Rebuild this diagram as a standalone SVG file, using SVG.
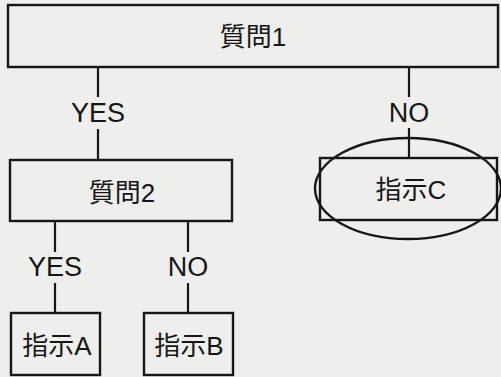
<svg xmlns="http://www.w3.org/2000/svg" width="501" height="377" viewBox="0 0 501 377">
<style>
.box{fill:none;stroke:#161616;stroke-width:2.4}
.ln{stroke:#161616;stroke-width:2.2;fill:none}
.t{font-family:"Liberation Sans","Noto Sans CJK JP",sans-serif;font-size:26px;fill:#161616;text-anchor:middle}
.l{font-size:27px}
</style>
<rect width="501" height="377" fill="#eeeeec"/>
<g id="connectors">
<line class="ln" x1="98" y1="67" x2="98" y2="97"/>
<line class="ln" x1="98" y1="129" x2="98" y2="160"/>
<line class="ln" x1="409" y1="67" x2="409" y2="97"/>
<line class="ln" x1="409" y1="128" x2="409" y2="158"/>
<line class="ln" x1="55" y1="221" x2="55" y2="252"/>
<line class="ln" x1="55" y1="283" x2="55" y2="313"/>
<line class="ln" x1="188" y1="221" x2="188" y2="252"/>
<line class="ln" x1="188" y1="283" x2="188" y2="313"/>
<text class="t l" x="98" y="122">YES</text>
<text class="t l" x="409" y="122">NO</text>
<text class="t l" x="55" y="276">YES</text>
<text class="t l" x="188" y="276">NO</text>
</g>
<g id="q1">
<rect class="box" x="8" y="5" width="490" height="62"/>
<text class="t" x="253" y="46">質問1</text>
</g>
<g id="q2">
<rect class="box" x="10" y="160" width="222" height="61"/>
<text class="t" x="122" y="202">質問2</text>
</g>
<g id="c">
<rect class="box" x="320" y="158" width="177" height="62"/>
<ellipse class="box" cx="408" cy="188.5" rx="93" ry="50.5"/>
<text class="t" x="411" y="199">指示C</text>
</g>
<g id="a">
<rect class="box" x="11" y="313" width="89" height="62"/>
<text class="t" x="57" y="355">指示A</text>
</g>
<g id="b">
<rect class="box" x="144" y="313" width="89" height="62"/>
<text class="t" x="189" y="355">指示B</text>
</g>
</svg>
